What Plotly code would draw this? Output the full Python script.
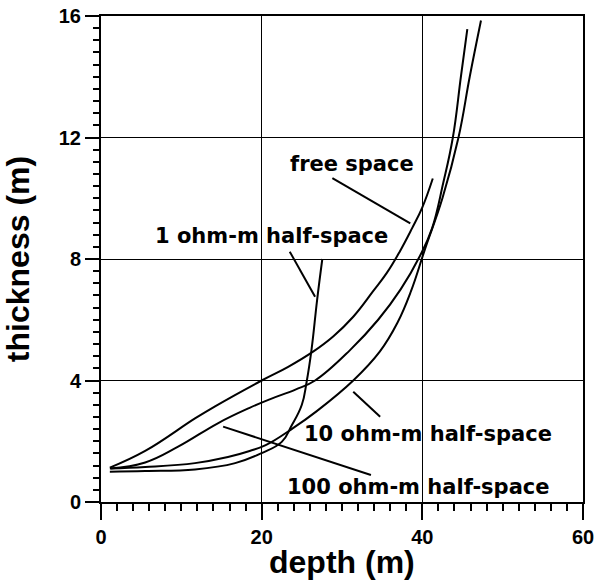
import plotly.graph_objects as go

# ---- data ----
free_x = [1.1, 5.5, 11.7, 14.2, 20.0, 23.3, 26.4, 28.9, 31.4, 33.9, 35.6, 37.2, 38.7, 40.0, 41.3]
free_y = [1.13, 1.68, 2.75, 3.15, 4.0, 4.45, 4.95, 5.45, 6.1, 6.95, 7.55, 8.25, 9.0, 9.7, 10.65]

ohm100_x = [1.1, 5.5, 9.6, 14.6, 18.5, 21.0, 24.2, 26.65, 31.0, 34.5, 37.3, 39.7, 41.2, 42.6, 43.8, 44.8, 45.6]
ohm100_y = [1.1, 1.3, 1.82, 2.6, 3.1, 3.38, 3.7, 4.0, 5.0, 6.0, 7.0, 8.1, 9.0, 10.5, 12.0, 14.0, 15.57]

ohm10_x = [1.2, 5.5, 11.7, 15.8, 18.5, 20.5, 23.9, 26.9, 31.4, 34.7, 36.9, 38.6, 40.3, 42.5, 44.5, 45.9, 47.3]
ohm10_y = [1.1, 1.15, 1.28, 1.48, 1.68, 1.87, 2.43, 3.0, 4.0, 4.95, 5.9, 6.95, 8.3, 10.0, 12.0, 14.0, 15.85]

ohm1_x = [1.1, 5.5, 11.7, 16.7, 20.0, 22.5, 23.7, 25.0, 25.6, 26.2, 26.9, 27.55]
ohm1_y = [1.0, 1.02, 1.07, 1.28, 1.61, 1.98, 2.5, 3.2, 3.96, 5.0, 6.65, 8.0]

label_text = ["free space", "1 ohm-m half-space", "10 ohm-m half-space", "100 ohm-m half-space"]
label_x = [31.3, 21.2, 40.66, 39.48]
label_y = [11.13, 8.76, 2.24, 0.49]

pointer_x0 = [28.8, 23.5, 31.4, 15.2]
pointer_y0 = [10.66, 8.24, 3.63, 2.48]
pointer_x1 = [38.5, 26.65, 34.75, 33.6]
pointer_y1 = [9.17, 6.76, 2.81, 0.89]

x_ticks = [0, 20, 40, 60]
y_ticks = [0, 4, 8, 12, 16]

x_title = "depth (m)"
y_title = "thickness (m)"

# ---- figure ----
fig = go.Figure()
for xs, ys, name in [(free_x, free_y, "free space"),
                     (ohm100_x, ohm100_y, "100 ohm-m half-space"),
                     (ohm10_x, ohm10_y, "10 ohm-m half-space"),
                     (ohm1_x, ohm1_y, "1 ohm-m half-space")]:
    fig.add_trace(go.Scatter(x=xs, y=ys, mode="lines", name=name,
                             line=dict(color="black", width=2, shape="spline", smoothing=1.2),
                             showlegend=False))

for t, x, y in zip(label_text, label_x, label_y):
    fig.add_annotation(x=x, y=y, xref="x", yref="y", text=t, showarrow=False,
                       xanchor="center", yanchor="middle",
                       font=dict(family="DejaVu Sans", size=21, color="black", weight="bold"))

for x0, y0, x1, y1 in zip(pointer_x0, pointer_y0, pointer_x1, pointer_y1):
    fig.add_shape(type="line", xref="x", yref="y", x0=x0, y0=y0, x1=x1, y1=y1,
                  line=dict(color="black", width=2))

tickfont = dict(family="Liberation Sans", size=20, color="black", weight="bold")
titlefont = dict(family="Liberation Sans", size=32, color="black", weight="bold")

# x-axis title as a paper-anchored annotation for exact vertical placement
fig.add_annotation(x=0.5, y=-0.1235, xref="paper", yref="paper", text=x_title,
                   showarrow=False, xanchor="center", yanchor="middle", font=titlefont)

fig.update_xaxes(range=[0, 60], tickvals=x_ticks, ticktext=[str(v) for v in x_ticks],
                 showgrid=True, gridcolor="black", gridwidth=1,
                 showline=True, linecolor="black", linewidth=2, mirror=True,
                 ticks="outside", ticklen=16, tickwidth=2, tickcolor="black",
                 minor=dict(dtick=2, ticks="outside", ticklen=7, tickwidth=1.5, tickcolor="black", showgrid=False),
                 zeroline=False, tickfont=tickfont, automargin=False,
                 ticklabeloverflow="allow")
fig.update_yaxes(range=[0, 16], tickvals=y_ticks, ticktext=[str(v) for v in y_ticks],
                 showgrid=True, gridcolor="black", gridwidth=1,
                 showline=True, linecolor="black", linewidth=2, mirror=True,
                 ticks="outside", ticklen=14, tickwidth=2, tickcolor="black",
                 minor=dict(dtick=0.4, ticks="outside", ticklen=6, tickwidth=1.5, tickcolor="black", showgrid=False),
                 zeroline=False, tickfont=tickfont, automargin=False,
                 ticklabeloverflow="allow",
                 title=dict(text=y_title, font=titlefont, standoff=20))

fig.update_layout(width=594, height=587, margin=dict(l=101, r=11, t=16, b=85),
                  plot_bgcolor="white", paper_bgcolor="white")

fig.write_html("out.html")
